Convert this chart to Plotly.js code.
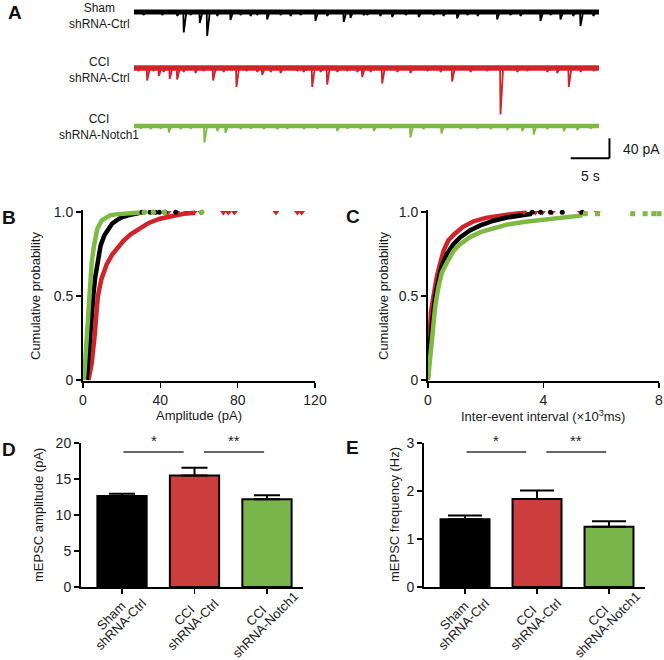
<!DOCTYPE html>
<html>
<head>
<meta charset="utf-8">
<script src="https://cdn.plot.ly/plotly-3.0.1.min.js"></script>
<style>html,body{margin:0;padding:0;background:#fff;}#chart{width:664px;height:660px;}</style>
</head>
<body>
<div id="chart"></div>
<script>
// ---------------- DATA ----------------
const groups = ['Sham shRNA-Ctrl', 'CCI shRNA-Ctrl', 'CCI shRNA-Notch1'];
const groupLine1 = ['Sham', 'CCI', 'CCI'];
const groupLine2 = ['shRNA-Ctrl', 'shRNA-Ctrl', 'shRNA-Notch1'];

// Panel A: example traces (event time in s, event amplitude in pA)
const recordDuration = 60;
const shamEventT = [1.16,3.57,5.51,6.36,7.23,8.43,9.38,10.67,12.39,13.68,14.97,15.83,17.12,18.84,20.13,21.42,23.35,24.86,27.0,27.87,29.55,30.03,31.7,33.25,35.0,36.68,38.58,39.87,41.64,42.97,44.26,46.8,48.5,49.8,52.39,53.68,54.97,56.6,57.55,59.2];
const shamEventA = [6,6,8,41,6,22,48,8,16,6,8,6,15,6,8,6,18,8,20,12,6,6,8,10,6,10,6,8,13,6,8,15,6,8,18,6,15,8,28,8];
const cciEventT = [0.5,1.64,2.45,3.14,3.74,4.55,5.51,6.32,7.87,8.9,10.15,11.48,13.16,14.45,15.83,16.48,17.55,18.84,20.99,21.81,22.93,24.0,24.86,26.15,27.45,28.74,29.38,30.45,31.96,33.9,35.6,37.77,39.48,40.99,43.35,45.5,47.23,49.38,50.67,53.25,54.54,56.04,57.55,59.26];
const cciEventA = [6,25,6,16,8,22,23,8,10,6,25,8,38,6,8,14,8,10,6,8,38,8,33,8,6,8,18,8,31,8,10,6,8,27,8,6,93,8,6,8,10,38,8,6];
const notchEventT = [0.77,2.06,3.35,4.43,5.94,7.23,9.03,10.67,11.74,13.68,14.97,16.68,18.41,19.7,21.85,23.57,26.15,27.45,29.16,30.88,33.03,35.61,37.29,39.61,42.06,44.22,45.94,48.09,50.03,51.52,53.25,55.39,57.12,58.84];
const notchEventA = [5,6,5,13,6,5,33,10,14,6,5,6,6,5,6,5,10,5,6,10,6,23,6,15,6,5,6,8,10,17,6,10,8,5];
const scaleBarTime = 5;   // s
const scaleBarAmp = 40;   // pA

// Panel B: cumulative amplitude distributions (pA, probability)
const ampShamX = [1.9,2.6,3.6,4.4,5.3,6.3,7.4,9.1,11,13.1,15,17.4,20,23.4,26.5,29.5];
const ampShamY = [0,0.12,0.25,0.38,0.5,0.61,0.7,0.8,0.86,0.9,0.93,0.95,0.968,0.98,0.99,0.995];
const ampCciX = [2.8,3.6,4.5,5.9,7.7,9.5,12.3,15,17.5,21,25,29.5,34,39.8,46,52,58];
const ampCciY = [0,0.04,0.1,0.25,0.5,0.6,0.69,0.745,0.78,0.83,0.87,0.905,0.935,0.96,0.978,0.99,0.996];
const ampNotchX = [0.5,1.2,1.9,2.6,3.3,4.5,5.7,7.4,9.7,12,14,17,20.7,25,29.5];
const ampNotchY = [0,0.12,0.25,0.38,0.5,0.7,0.8,0.9,0.95,0.97,0.98,0.986,0.99,0.995,0.997];
const ampShamTailX = [30.5,34.7,37.5,39.5,42.5,48];
const ampNotchTailX = [31.7,36.4,42.1,61.4];
const ampCciTailX = [44,48.5,54,57.4,60.9,72.6,75.2,78.3,99.8,110.9,113.1];

// Panel C: cumulative inter-event interval distributions (x10^3 ms, probability)
const iviShamX = [0,0.05,0.14,0.25,0.37,0.48,0.66,0.89,1.12,1.45,1.81,2.27,2.73,3.2,3.6];
const iviShamY = [0.02,0.18,0.34,0.5,0.6,0.68,0.752,0.81,0.85,0.89,0.92,0.948,0.967,0.982,0.99];
const iviCciX = [0,0.04,0.1,0.19,0.31,0.43,0.54,0.7,0.89,1.2,1.58,2.0,2.5,3.0,3.4];
const iviCciY = [0.12,0.3,0.4,0.5,0.62,0.7,0.77,0.83,0.865,0.91,0.945,0.965,0.98,0.99,0.995];
const iviNotchX = [0,0.14,0.25,0.37,0.48,0.66,0.89,1.12,1.45,1.81,2.27,2.73,3.3,3.89,4.5,5.04,5.35];
const iviNotchY = [0,0.26,0.44,0.56,0.64,0.7,0.77,0.81,0.85,0.88,0.905,0.925,0.94,0.95,0.963,0.975,0.98];
const iviShamTailX = [3.61,3.9,4.24,4.65,5.34];
const iviCciTailX = [3.32,3.72,3.96,4.3,5.28,5.86];
const iviNotchTailX = [5.45,5.87,7.09,7.52,7.82,8.0];

// Panels D, E: means and SEM
const ampMean = [12.64, 15.5, 12.18];
const ampSem = [0.32, 1.07, 0.55];
const freqMean = [1.41, 1.835, 1.256];
const freqSem = [0.08, 0.175, 0.112];
const sigText = ['*', '**'];

// ---------------- STYLE / LAYOUT ----------------
const W = 664, H = 660;
const FONT = 'Arial, "Liberation Sans", Helvetica, sans-serif';
const C_BLACK = '#000000', C_RED = '#d2232a', C_GREEN = '#7cba42';
const BAR_COLORS = ['#000000', '#cc3d3d', '#7ab54c'];
const LINE_COLORS = [C_BLACK, C_RED, C_GREEN];

function dx(a, b) { return [a / W, b / W]; }
function dy(top, bottom) { return [1 - bottom / H, 1 - top / H]; }
function px(x) { return x / W; }
function py(y) { return 1 - y / H; }

function spikeSeries(times, amps) {
  const xs = [0], ys = [0];
  for (let i = 0; i < times.length; i++) {
    xs.push(times[i], times[i] + 0.06, times[i] + 0.4);
    ys.push(0, -amps[i], 0);
  }
  xs.push(recordDuration); ys.push(0);
  return {xs, ys};
}

const traces = [];
// Panel A
const aSets = [[shamEventT, shamEventA, 'y', 5], [cciEventT, cciEventA, 'y2', 5.5], [notchEventT, notchEventA, 'y3', 4.5]];
aSets.forEach((s, i) => {
  traces.push({type:'scatter', mode:'lines', x:[0, recordDuration], y:[0, 0], xaxis:'x', yaxis:s[2],
    line:{color:LINE_COLORS[i], width:s[3]}, hoverinfo:'skip'});
  const sp = spikeSeries(s[0], s[1]);
  traces.push({type:'scatter', mode:'lines', x:sp.xs, y:sp.ys, xaxis:'x', yaxis:s[2],
    line:{color:LINE_COLORS[i], width:1.8}, name:groups[i]});
});

// Panel B
const cdfW = 4.5;
traces.push({type:'scatter', mode:'lines', x:ampCciX, y:ampCciY, xaxis:'x2', yaxis:'y4', line:{color:C_RED, width:cdfW}, name:groups[1]});
traces.push({type:'scatter', mode:'lines', x:ampShamX, y:ampShamY, xaxis:'x2', yaxis:'y4', line:{color:C_BLACK, width:cdfW}, name:groups[0]});
traces.push({type:'scatter', mode:'lines', x:ampNotchX, y:ampNotchY, xaxis:'x2', yaxis:'y4', line:{color:C_GREEN, width:cdfW}, name:groups[2]});
traces.push({type:'scatter', mode:'markers', x:ampCciTailX, y:ampCciTailX.map(() => 0.997), xaxis:'x2', yaxis:'y4', cliponaxis:false, marker:{symbol:'triangle-down', size:6, color:C_RED}});
traces.push({type:'scatter', mode:'markers', x:ampShamTailX, y:ampShamTailX.map(() => 0.998), xaxis:'x2', yaxis:'y4', cliponaxis:false, marker:{symbol:'circle', size:5, color:C_BLACK}});
traces.push({type:'scatter', mode:'markers', x:ampNotchTailX, y:ampNotchTailX.map(() => 0.998), xaxis:'x2', yaxis:'y4', cliponaxis:false, marker:{symbol:'circle', size:5.5, color:C_GREEN}});

// Panel C
traces.push({type:'scatter', mode:'lines', x:iviCciX, y:iviCciY, xaxis:'x3', yaxis:'y5', line:{color:C_RED, width:cdfW}, name:groups[1]});
traces.push({type:'scatter', mode:'lines', x:iviShamX, y:iviShamY, xaxis:'x3', yaxis:'y5', line:{color:C_BLACK, width:cdfW}, name:groups[0]});
traces.push({type:'scatter', mode:'lines', x:iviNotchX, y:iviNotchY, xaxis:'x3', yaxis:'y5', line:{color:C_GREEN, width:cdfW}, name:groups[2]});
traces.push({type:'scatter', mode:'markers', x:iviCciTailX, y:iviCciTailX.map(() => 0.997), xaxis:'x3', yaxis:'y5', cliponaxis:false, marker:{symbol:'triangle-down', size:6, color:C_RED}});
traces.push({type:'scatter', mode:'markers', x:iviShamTailX, y:iviShamTailX.map(() => 0.998), xaxis:'x3', yaxis:'y5', cliponaxis:false, marker:{symbol:'circle', size:5, color:C_BLACK}});
traces.push({type:'scatter', mode:'markers', x:iviNotchTailX, y:iviNotchTailX.map(() => 0.99), xaxis:'x3', yaxis:'y5', cliponaxis:false, marker:{symbol:'square', size:5, color:C_GREEN}});

// Panels D, E
function barTrace(means, sems, xa, ya, capW) {
  return {type:'bar', x:[0, 1, 2], y:means, xaxis:xa, yaxis:ya, width:0.68,
    marker:{color:BAR_COLORS, line:{color:'#000', width:2}},
    error_y:{type:'data', symmetric:false, array:sems, arrayminus:sems.map(() => 0), color:'#000', thickness:2, width:capW},
    hovertext:groups};
}
traces.push(barTrace(ampMean, ampSem, 'x4', 'y6', 13));
traces.push(barTrace(freqMean, freqSem, 'x5', 'y7', 17));

const axisStyle = {showline:true, linecolor:'#000', linewidth:2, ticks:'outside', ticklen:5, tickwidth:1.5, tickcolor:'#000',
  showgrid:false, zeroline:false, tickfont:{family:FONT, size:14, color:'#222'}, fixedrange:true};

const annotations = [];
function ann(text, x, y, opts) {
  annotations.push(Object.assign({text:text, x:x, y:y, xref:'paper', yref:'paper', showarrow:false,
    xanchor:'center', yanchor:'middle', font:{family:FONT, size:13, color:'#1a1a1a'}}, opts || {}));
}
// panel letters
[['A', 15, 13], ['B', 9, 217], ['C', 353, 216], ['D', 9, 449], ['E', 353, 447]].forEach(l =>
  ann('<b>' + l[0] + '</b>', px(l[1]), py(l[2]), {font:{family:FONT, size:19, color:'#111'}}));
// trace labels in A (two lines each)
const aLabelY = [16, 70, 127];
groups.forEach((g, i) => {
  ann(groupLine1[i] + '<br>' + groupLine2[i], px(99), py(aLabelY[i]), {font:{family:FONT, size:12, color:'#1a1a1a'}});
});
// scale bar labels
ann(scaleBarAmp + ' pA', px(641), py(149), {font:{family:FONT, size:14, color:'#1a1a1a'}});
ann(scaleBarTime + ' s', px(590), py(176), {font:{family:FONT, size:14, color:'#1a1a1a'}});
// axis titles
ann('Cumulative probability', px(35), py(296), {textangle:-90});
ann('Amplitude (pA)', px(199), py(416));
ann('Cumulative probability', px(383), py(296), {textangle:-90});
ann('Inter-event interval (×10<sup>3</sup>ms)', px(543), py(416));
ann('mEPSC amplitude (pA)', px(38), py(515), {textangle:-90});
ann('mEPSC frequency (Hz)', px(394), py(515), {textangle:-90});
// rotated category labels under bars
['x4', 'x5'].forEach(xa => {
  groups.forEach((g, i) => {
    annotations.push({text:groupLine1[i], x:i, xref:xa, y:py(615.4), yref:'paper', xshift:-10.6, textangle:-45,
      showarrow:false, xanchor:'center', yanchor:'middle', font:{family:FONT, size:13, color:'#1a1a1a'}});
    annotations.push({text:groupLine2[i], x:i, xref:xa, y:py(624.6), yref:'paper', xshift:-1.4, textangle:-45,
      showarrow:false, xanchor:'center', yanchor:'middle', font:{family:FONT, size:13, color:'#1a1a1a'}});
  });
});
// significance
const sigSpans = [[0.02, 0.85], [1.13, 1.96]];
const shapes = [];
[['x4', 'y6', 18.75], ['x5', 'y7', 2.81]].forEach(p => {
  sigSpans.forEach((s, k) => {
    shapes.push({type:'line', xref:p[0], yref:p[1], x0:s[0], x1:s[1], y0:p[2], y1:p[2], line:{color:'#333', width:1.5}});
    annotations.push({text:sigText[k], x:(s[0] + s[1]) / 2, xref:p[0], y:p[2], yref:p[1], yshift:1, showarrow:false,
      xanchor:'center', yanchor:'bottom', font:{family:FONT, size:15, color:'#222'}});
  });
});
// scale bar (in panel A green trace axis units)
const sbT0 = 56.35, sbY0 = -64.6;
shapes.push({type:'line', xref:'x', yref:'y3', x0:sbT0, x1:sbT0 + scaleBarTime, y0:sbY0, y1:sbY0, line:{color:'#000', width:2}});
shapes.push({type:'line', xref:'x', yref:'y3', x0:sbT0 + scaleBarTime, x1:sbT0 + scaleBarTime, y0:sbY0, y1:sbY0 + scaleBarAmp, line:{color:'#000', width:2}});

const layout = {
  width:W, height:H, margin:{l:0, r:0, t:0, b:0}, paper_bgcolor:'#fff', plot_bgcolor:'rgba(0,0,0,0)',
  showlegend:false, font:{family:FONT, size:13, color:'#1a1a1a'}, bargap:0,
  xaxis:{domain:dx(134, 630), range:[0, 64], visible:false, anchor:'y', fixedrange:true},
  yaxis:{domain:dy(0, 60), range:[-96, 24], visible:false, anchor:'x', fixedrange:true},
  yaxis2:{domain:dy(50, 122), range:[-108, 36], visible:false, anchor:'x', fixedrange:true},
  yaxis3:{domain:dy(112, 165), range:[-78, 28], visible:false, anchor:'x', fixedrange:true},
  xaxis2:Object.assign({}, axisStyle, {domain:dx(83, 315), range:[0, 120], tickvals:[0, 40, 80, 120], anchor:'y4'}),
  yaxis4:Object.assign({}, axisStyle, {domain:dy(210, 381), range:[-0.006, 1.012], tickvals:[0, 0.5, 1], ticktext:['0', '0.5', '1.0'], anchor:'x2'}),
  xaxis3:Object.assign({}, axisStyle, {domain:dx(428, 659), range:[0, 8], tickvals:[0, 4, 8], anchor:'y5'}),
  yaxis5:Object.assign({}, axisStyle, {domain:dy(210, 381), range:[-0.006, 1.012], tickvals:[0, 0.5, 1], ticktext:['0', '0.5', '1.0'], anchor:'x3'}),
  xaxis4:Object.assign({}, axisStyle, {domain:dx(81, 303), range:[-0.566, 2.497], tickvals:[0, 1, 2], showticklabels:false, anchor:'y6'}),
  yaxis6:Object.assign({}, axisStyle, {domain:dy(443, 587), range:[0, 20], tickvals:[0, 5, 10, 15, 20], anchor:'x4'}),
  xaxis5:Object.assign({}, axisStyle, {domain:dx(424, 645), range:[-0.57, 2.5], tickvals:[0, 1, 2], showticklabels:false, anchor:'y7'}),
  yaxis7:Object.assign({}, axisStyle, {domain:dy(443, 587), range:[0, 3], tickvals:[0, 1, 2, 3], anchor:'x5'}),
  annotations:annotations, shapes:shapes
};

Plotly.newPlot('chart', traces, layout, {staticPlot:true, displayModeBar:false});
</script>
</body>
</html>
